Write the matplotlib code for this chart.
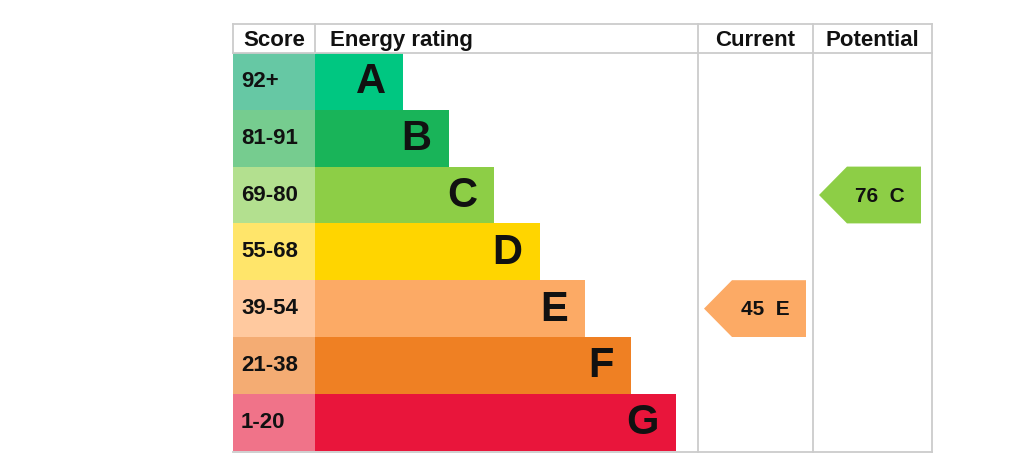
import matplotlib.pyplot as plt
from matplotlib.patches import Polygon

# EPC bands, top (best) to bottom (worst)
bands = ["A", "B", "C", "D", "E", "F", "G"]
score_ranges = ["92+", "81-91", "69-80", "55-68", "39-54", "21-38", "1-20"]
band_lows = [92, 81, 69, 55, 39, 21, 1]
bar_colors = ["#00c781", "#19b459", "#8dce46", "#ffd500", "#fcaa65", "#ef8023", "#e9153b"]
score_colors = ["#66c8a4", "#76cc8f", "#b3e08f", "#ffe56a", "#ffc99f", "#f4ac73", "#f07389"]
headers = ["Score", "Energy rating", "Current", "Potential"]
current_score = 45
potential_score = 76

# layout in pixels
W, H = 1024, 473
x_left, x_score, x_cur, x_pot, x_right = 233, 315, 698, 813, 932
y_top, y_head = 24, 53
row_h = 56.8
bar_base, bar_step = 88, 45.5
grid_col = "#cccccc"
font = "Liberation Sans"


def band_index(score):
    for i, low in enumerate(band_lows):
        if score >= low:
            return i
    return len(bands) - 1


fig = plt.figure(figsize=(W / 100, H / 100), dpi=100)
ax = fig.add_axes([0, 0, 1, 1])
ax.set_xlim(0, W)
ax.set_ylim(H, 0)
ax.axis("off")

y_bottom = y_head + row_h * len(bands)

# band rows
for i, (band, rng) in enumerate(zip(bands, score_ranges)):
    y0 = y_head + i * row_h
    yc = y0 + row_h / 2
    ax.barh(yc, x_score - x_left, left=x_left, height=row_h,
            color=score_colors[i], linewidth=0)
    bar_w = bar_base + bar_step * i
    ax.barh(yc, bar_w, left=x_score, height=row_h,
            color=bar_colors[i], linewidth=0)
    ax.text(x_left + 8, yc, rng, ha="left", va="center",
            fontsize=16, fontweight="bold", family=font, color="#111111")
    ax.text(x_score + bar_w - 17, yc + 1, band, ha="right", va="center",
            fontsize=30, fontweight="bold", family=font, color="#111111")

# grid lines
lw = 1.3
ax.plot([x_left, x_right], [y_top, y_top], color=grid_col, lw=lw)
ax.plot([x_left, x_right], [y_head, y_head], color=grid_col, lw=lw)
ax.plot([x_left, x_right], [y_bottom + 1, y_bottom + 1], color=grid_col, lw=lw)
ax.plot([x_left, x_left], [y_top, y_head], color=grid_col, lw=lw)
ax.plot([x_score, x_score], [y_top, y_head], color=grid_col, lw=lw)
for x in (x_cur, x_pot, x_right):
    ax.plot([x, x], [y_top, y_bottom + 1], color=grid_col, lw=lw)

# header text
head_y = (y_top + y_head) / 2 + 2
ax.text((x_left + x_score) / 2, head_y, headers[0], ha="center", va="center",
        fontsize=16, fontweight="bold", family=font, color="#111111")
ax.text(x_score + 15, head_y, headers[1], ha="left", va="center",
        fontsize=16, fontweight="bold", family=font, color="#111111")
ax.text((x_cur + x_pot) / 2, head_y, headers[2], ha="center", va="center",
        fontsize=16, fontweight="bold", family=font, color="#111111")
ax.text((x_pot + x_right) / 2, head_y, headers[3], ha="center", va="center",
        fontsize=16, fontweight="bold", family=font, color="#111111")


def draw_arrow(score, col_left):
    i = band_index(score)
    y0 = y_head + i * row_h
    y1 = y0 + row_h
    tip = col_left + 6
    body = col_left + 34
    right = col_left + 108
    pts = [(tip, (y0 + y1) / 2), (body, y0), (right, y0), (right, y1), (body, y1)]
    ax.add_patch(Polygon(pts, closed=True, color=bar_colors[i], linewidth=0))
    ax.text((body + right) / 2 - 4, (y0 + y1) / 2 + 1, f"{score}  {bands[i]}",
            ha="center", va="center", fontsize=15, fontweight="bold",
            family=font, color="#111111")


draw_arrow(current_score, x_cur)
draw_arrow(potential_score, x_pot)

fig.savefig("out.png", dpi=100)
